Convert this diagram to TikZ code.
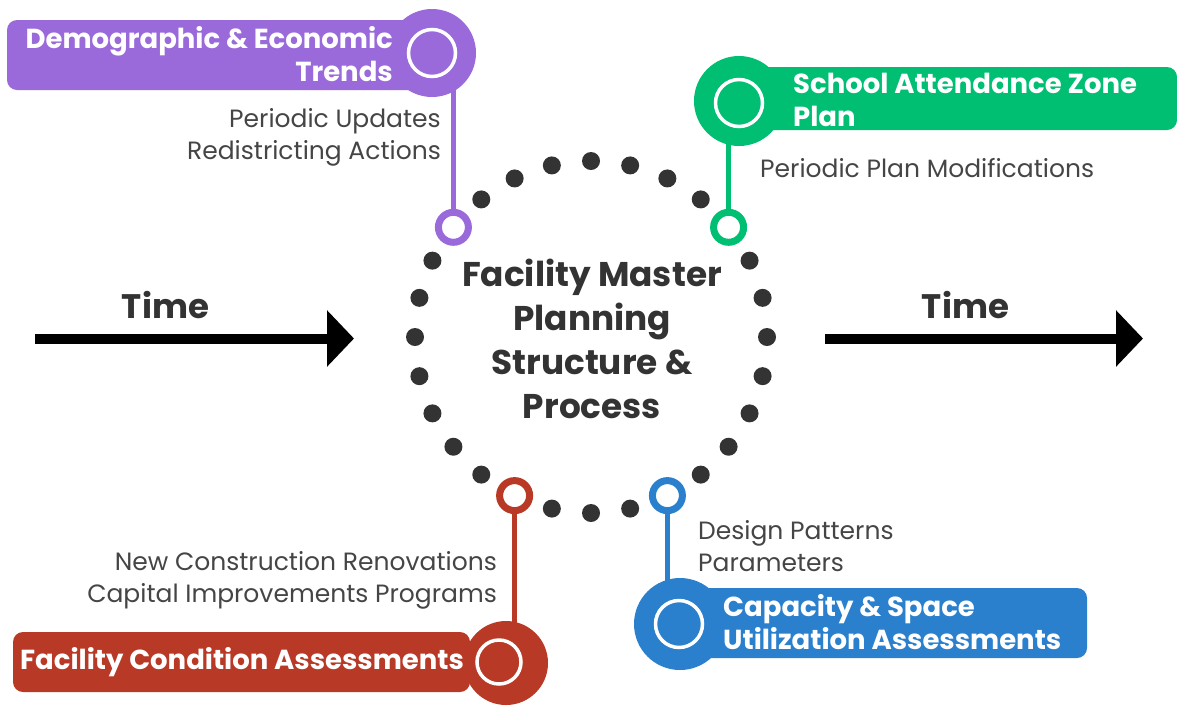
\documentclass[tikz,border=0pt]{standalone}
\usepackage{fontspec}
\setmainfont{Poppins}
\usetikzlibrary{arrows.meta}
\definecolor{cpurple}{HTML}{9A6ADB}
\definecolor{cgreen}{HTML}{00BF73}
\definecolor{cred}{HTML}{B83A26}
\definecolor{cblue}{HTML}{2A80CC}
\definecolor{cdark}{HTML}{333333}
\definecolor{clabel}{HTML}{454545}
\pgfdeclarelayer{bg}
\pgfsetlayers{bg,main}
\tikzset{
  bigcirc/.style={circle, fill=#1, inner sep=0pt},
  innerring/.style={circle, draw=white, line width=3.5pt, inner sep=0pt, minimum size=47pt},
  smallring/.style={circle, draw=#1, fill=white, line width=7pt, inner sep=0pt, minimum size=30pt},
  conn/.style={draw=#1, line width=4.5pt},
  bantext/.style={text=white, inner sep=0pt, font=\fontsize{27.5}{33}\selectfont\bfseries},
  lbl/.style={text=clabel, inner sep=0pt, font=\fontsize{25}{32}\selectfont},
  dotc/.style={fill=cdark},
  timearrow/.style={line width=10pt, -{Triangle[length=27pt,width=55pt]}},
  timetext/.style={text=cdark, inner sep=0pt, font=\fontsize{34}{40}\selectfont\bfseries}
}
\begin{document}
\begin{tikzpicture}[x=1pt,y=-1pt]
\useasboundingbox (0,0) rectangle (1177,705);
% centre
\node[text=cdark, align=center, inner sep=0pt, font=\fontsize{34.3}{44}\selectfont\bfseries] (c) at (592,339) {Facility Master\\Planning\\Structure \&\\Process};
% dots
\foreach \k in {0,...,27}{
  \ifnum\k=5 \else\ifnum\k=9 \else\ifnum\k=17 \else\ifnum\k=25 \else
    \fill[dotc] ({591+176*cos(\k*360/28)},{337+176*sin(\k*360/28)}) circle (9);
  \fi\fi\fi\fi
}
% small rings on the circle
\node[smallring=cpurple] (pr) at (453.4,227.3) {};
\node[smallring=cgreen] (gr) at (728.6,227.3) {};
\node[smallring=cred] (rr) at (514.6,495.6) {};
\node[smallring=cblue] (br) at (667.4,495.6) {};

% purple banner
\fill[cpurple, rounded corners=10pt] (7,20) rectangle (440,90);
\node[bigcirc=cpurple, minimum size=88pt] (pb) at (432,53) {};
\node[innerring] (pi) at (432,53) {};
\node[bantext, anchor=east, align=right] (pt) at (393,54) {Demographic \& Economic\\Trends};

% green banner
\fill[cgreen, rounded corners=10pt] (745,67) rectangle (1177,130);
\node[bigcirc=cgreen, minimum size=90pt] (gb) at (739,101) {};
\node[innerring] (gi) at (739,103) {};
\node[bantext, anchor=west, align=left] (gt) at (793,100) {School Attendance Zone\\Plan};

% red banner
\fill[cred, rounded corners=10pt] (13,632) rectangle (470,692);
\node[bigcirc=cred, minimum size=84pt] (rb) at (506,663) {};
\node[innerring, minimum size=44pt] (ri) at (499,662) {};
\node[bantext, anchor=west] (rt) at (20,662) {Facility Condition Assessments};

% blue banner
\fill[cblue, rounded corners=10pt] (690,588) rectangle (1087,658);
\node[bigcirc=cblue, minimum size=92pt] (bb) at (680,624) {};
\node[innerring] (bi) at (679,624) {};
\node[bantext, anchor=west, align=left] (bt) at (723,622) {Capacity \& Space\\Utilization Assessments};

% connectors
\begin{pgfonlayer}{bg}
\draw[conn=cpurple] (pr.center) -- (pr.center |- pb.center);
\draw[conn=cgreen] (gr.center) -- (gr.center |- gb.center);
\draw[conn=cred] (rr.center) -- (rr.center |- rb.center);
\draw[conn=cblue] (br.center) -- (br.center |- bb.center);
\end{pgfonlayer}

% labels
\node[lbl, anchor=east, align=right] (pl) at (441,137) {Periodic Updates\\Redistricting Actions};
\node[lbl, anchor=west] (gl) at (760,168) {Periodic Plan Modifications};
\node[lbl, anchor=east, align=right] (rl) at (497,580) {New Construction Renovations\\Capital Improvements Programs};
\node[lbl, anchor=west, align=left] (bl) at (698,546) {Design Patterns\\Parameters};

% time arrows
\coordinate (la) at (35,338.5);
\coordinate (lb) at (354,338.5);
\coordinate (ra) at (825,338.5);
\coordinate (rb2) at (1143,338.5);
\draw[timearrow] (la) -- (lb);
\draw[timearrow] (ra) -- (rb2);
\node[timetext] (lt) at (165.5,305) {Time};
\node[timetext] (rtm) at (965.5,305) {Time};
\end{tikzpicture}
\end{document}
